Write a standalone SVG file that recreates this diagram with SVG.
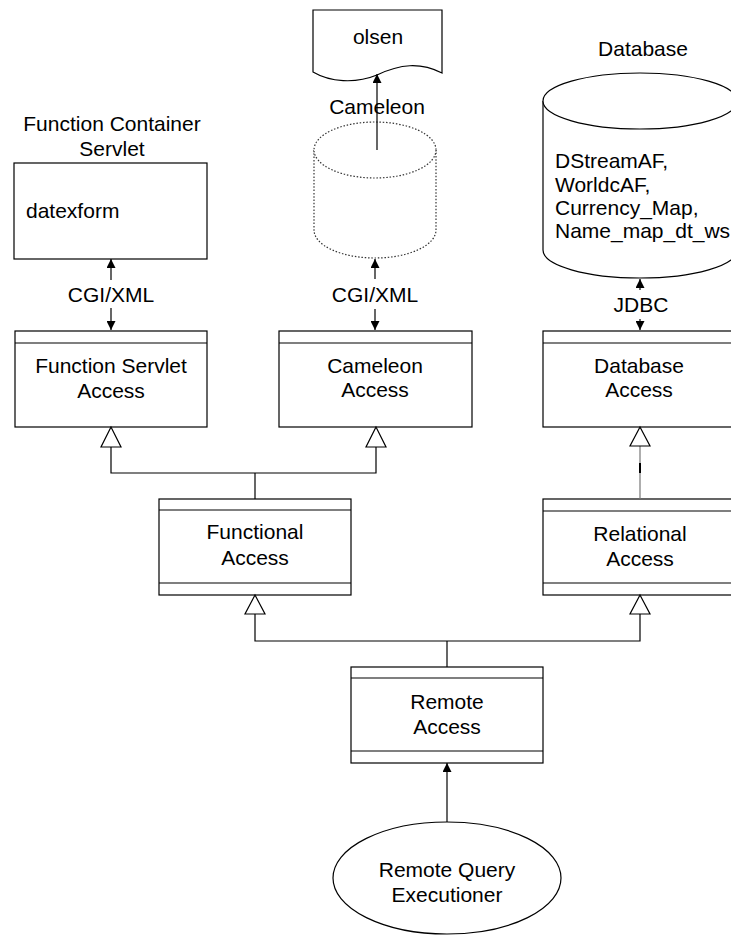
<svg xmlns="http://www.w3.org/2000/svg" width="731" height="939" viewBox="0 0 731 939">
<style>
text{font-family:"Liberation Sans",Arial,sans-serif;font-size:21px;fill:#000}
.c{text-anchor:middle}
.b{fill:#fff;stroke:#000;stroke-width:1.2}
.l{fill:none;stroke:#000;stroke-width:1.2}
.dot{fill:#fff;stroke:#333;stroke-width:1.2;stroke-dasharray:1.5 1.8}
.tri{fill:#fff;stroke:#000;stroke-width:1.2}
</style>
<defs>
<marker id="ah" viewBox="0 0 10 10" refX="10" refY="5" markerWidth="9" markerHeight="9" markerUnits="userSpaceOnUse" orient="auto">
<path d="M0,0 L10,5 L0,10 Z" fill="#000"/>
</marker>
</defs>
<rect width="731" height="939" fill="#fff"/>

<g id="olsen">
<path class="b" d="M313,10 H442 V73 C420,62 400,64 377,75 C355,84 330,82 313,72 Z"/>
<text class="c" x="378" y="44">olsen</text>
</g>

<g id="cameleon-db">
<path class="dot" d="M314,150 V230 A61,28 0 0 0 436,230 V150"/>
<ellipse class="dot" cx="375" cy="150" rx="61" ry="28"/>
<text class="c" x="377" y="114">Cameleon</text>
</g>

<g id="database">
<text class="c" x="643" y="56">Database</text>
<path class="b" d="M543,101 V250 A97,28 0 0 0 737,250 V101"/>
<ellipse class="b" cx="640" cy="101" rx="97" ry="28"/>
<text x="555" y="168">DStreamAF,</text>
<text x="555" y="192">WorldcAF,</text>
<text x="555" y="215">Currency_Map,</text>
<text x="555" y="238">Name_map_dt_ws</text>
</g>

<g id="function-container">
<text class="c" x="112" y="131">Function Container</text>
<text class="c" x="112" y="156">Servlet</text>
<rect class="b" x="14" y="163" width="193" height="96"/>
<text x="26" y="218">datexform</text>
</g>

<g id="function-servlet-access">
<rect class="b" x="15" y="331" width="192" height="96"/>
<line class="l" x1="15" y1="343" x2="207" y2="343"/>
<text class="c" x="111" y="373">Function Servlet</text>
<text class="c" x="111" y="398">Access</text>
</g>

<g id="cameleon-access">
<rect class="b" x="279" y="331" width="193" height="96"/>
<line class="l" x1="279" y1="343" x2="472" y2="343"/>
<text class="c" x="375" y="373">Cameleon</text>
<text class="c" x="375" y="397">Access</text>
</g>

<g id="database-access">
<rect class="b" x="543" y="331" width="194" height="96"/>
<line class="l" x1="543" y1="343" x2="737" y2="343"/>
<text class="c" x="639" y="373">Database</text>
<text class="c" x="639" y="397">Access</text>
</g>

<g id="functional-access">
<rect class="b" x="159" y="499" width="192" height="96"/>
<line class="l" x1="159" y1="510" x2="351" y2="510"/>
<line class="l" x1="159" y1="583" x2="351" y2="583"/>
<text class="c" x="255" y="539">Functional</text>
<text class="c" x="255" y="565">Access</text>
</g>

<g id="relational-access">
<rect class="b" x="543" y="499" width="194" height="96"/>
<line class="l" x1="543" y1="511" x2="737" y2="511"/>
<line class="l" x1="543" y1="583" x2="737" y2="583"/>
<text class="c" x="640" y="541">Relational</text>
<text class="c" x="640" y="566">Access</text>
</g>

<g id="remote-access">
<rect class="b" x="351" y="667" width="192" height="96"/>
<line class="l" x1="351" y1="678" x2="543" y2="678"/>
<line class="l" x1="351" y1="751" x2="543" y2="751"/>
<text class="c" x="447" y="709">Remote</text>
<text class="c" x="447" y="734">Access</text>
</g>

<g id="remote-query-executioner">
<ellipse class="b" cx="447" cy="878" rx="114" ry="56"/>
<text class="c" x="447" y="877">Remote Query</text>
<text class="c" x="447" y="902">Executioner</text>
</g>

<g id="connectors">
<line class="l" x1="377" y1="150" x2="377" y2="74" marker-end="url(#ah)"/>
<line class="l" x1="111" y1="280" x2="111" y2="259" marker-end="url(#ah)"/>
<line class="l" x1="111" y1="308" x2="111" y2="330" marker-end="url(#ah)"/>
<text class="c" x="111" y="302">CGI/XML</text>
<line class="l" x1="375" y1="279" x2="375" y2="259" marker-end="url(#ah)"/>
<line class="l" x1="375" y1="309" x2="375" y2="330" marker-end="url(#ah)"/>
<text class="c" x="375" y="302">CGI/XML</text>
<line class="l" x1="640" y1="290" x2="640" y2="279" marker-end="url(#ah)"/>
<line class="l" x1="640" y1="319" x2="640" y2="330" marker-end="url(#ah)"/>
<text class="c" x="641" y="312">JDBC</text>

<polyline class="l" points="111,446 111,473 376,473 376,446"/>
<line class="l" x1="255" y1="473" x2="255" y2="499"/>
<polygon class="tri" points="111,427 101,447 121,447"/>
<polygon class="tri" points="376,427 366,447 386,447"/>

<line x1="640" y1="446" x2="640" y2="499" stroke="#777" stroke-width="1.2"/>
<line x1="640" y1="463" x2="640" y2="473" stroke="#000" stroke-width="2"/>
<polygon class="tri" points="640,427 630,446 650,446"/>

<polyline class="l" points="255,613 255,641 640,641 640,613"/>
<line class="l" x1="447" y1="641" x2="447" y2="667"/>
<polygon class="tri" points="255,595 245,614 265,614"/>
<polygon class="tri" points="640,595 630,614 650,614"/>

<line class="l" x1="447" y1="822" x2="447" y2="763" marker-end="url(#ah)"/>
</g>
</svg>
